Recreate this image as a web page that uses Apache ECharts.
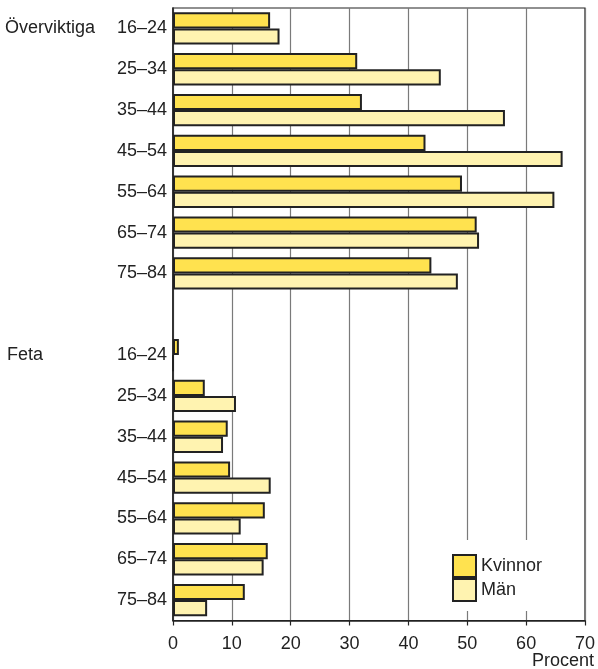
<!DOCTYPE html>
<html><head><meta charset="utf-8">
<script src="https://cdn.jsdelivr.net/npm/echarts@6/dist/echarts.min.js"></script>
<style>html,body{margin:0;padding:0;background:#fff}#c{width:598px;height:669px}</style>
</head><body><div id="c"></div>
<script>
const categories = ['16–24','25–34','35–44','45–54','55–64','65–74','75–84','','16–24','25–34','35–44','45–54','55–64','65–74','75–84'];
const groupLabels = ['Överviktiga','Feta'];
const groupIndex = [0, 8];
const kvinnor = [16.5,31.3,32.1,42.9,49.1,51.6,43.9,null,1.0,5.4,9.3,9.7,15.6,16.1,12.2];
const man = [18.1,45.5,56.4,66.2,64.8,52.0,48.4,null,0,10.7,8.5,16.6,11.5,15.4,5.8];
const xTicks = [0,10,20,30,40,50,60,70];
const seriesNames = ['Kvinnor','Män'];
const axisTitle = 'Procent';

const font = 'Liberation Sans, Arial, Helvetica, sans-serif';
const fs = 18;
const chart = echarts.init(document.getElementById('c'));
const option = {
  animation:false,
  textStyle:{fontFamily:font},
  grid:{left:173,right:11.5,top:8,bottom:48.5,show:true,borderColor:'#222',borderWidth:1.2,backgroundColor:'transparent'},
  xAxis:{type:'value',min:xTicks[0],max:xTicks[xTicks.length-1],interval:10,
    axisLine:{show:true,lineStyle:{color:'#222',width:1.6}},
    axisTick:{show:true,length:5,lineStyle:{color:'#222',width:1.2}},
    axisLabel:{color:'#222',fontSize:fs,margin:15,fontFamily:font},
    splitLine:{show:true,lineStyle:{color:'#7a7a7a',width:1.2}}},
  yAxis:{type:'category',data:categories,inverse:true,
    axisLine:{show:true,lineStyle:{color:'#222',width:1.6}},
    axisTick:{show:false},
    axisLabel:{color:'#222',fontSize:fs,margin:6,fontFamily:font}},
  legend:{orient:'vertical',left:447,top:540,padding:[14,10,9,5],itemGap:0,itemWidth:23,itemHeight:22,
    icon:'rect',
    backgroundColor:'#fff',textStyle:{color:'#222',fontSize:fs,fontFamily:font},
    data:seriesNames},
  series:[
    {name:seriesNames[0],type:'bar',data:kvinnor,barGap:'0%',barCategoryGap:'21%',
     itemStyle:{color:'#FFE24F',borderColor:'#222',borderWidth:2}},
    {name:seriesNames[1],type:'bar',data:man,
     itemStyle:{color:'#FFF3B0',borderColor:'#222',borderWidth:2}}
  ]
};
chart.setOption(option);
const g = groupLabels.map((t,i)=>{
  const y = chart.convertToPixel({yAxisIndex:0}, groupIndex[i]);
  return {type:'text',x:i===0?5:7,y:y,style:{text:t,fontSize:fs,fill:'#222',fontFamily:font,verticalAlign:'middle'}};
});
g.push({type:'text',right:4,top:652,style:{text:axisTitle,fontSize:fs,fill:'#222',fontFamily:font}});
chart.setOption({graphic:g});
</script></body></html>
